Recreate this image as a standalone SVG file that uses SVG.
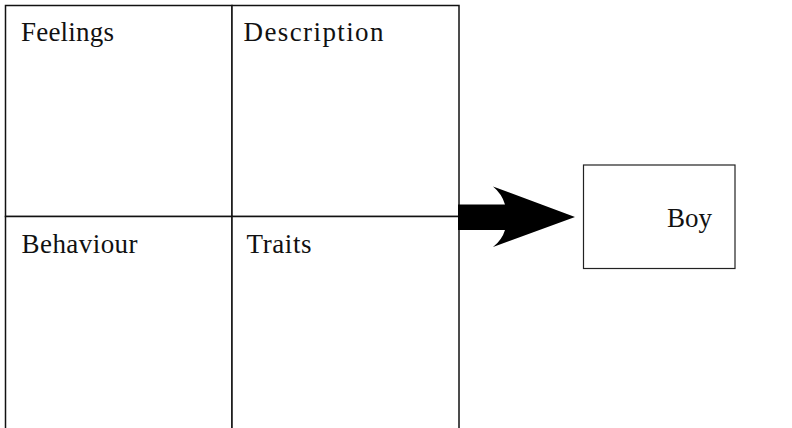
<svg xmlns="http://www.w3.org/2000/svg" width="792" height="428" viewBox="0 0 792 428">
<style>
.cell{fill:#fff;stroke:#111;stroke-width:1.5}
.box{fill:#fff;stroke:#222;stroke-width:1.2}
.lbl{font-family:"Liberation Serif","Times New Roman",serif;font-size:27px;fill:#111}
</style>
<rect width="792" height="428" fill="#fff"/>
<g id="feelings">
<rect class="cell" x="5.5" y="5.5" width="226.5" height="211"/>
<text class="lbl" x="21" y="41" textLength="93" lengthAdjust="spacing">Feelings</text>
</g>
<g id="description">
<rect class="cell" x="232" y="5.5" width="227" height="211"/>
<text class="lbl" x="243.5" y="41" textLength="140" lengthAdjust="spacing">Description</text>
</g>
<g id="behaviour">
<rect class="cell" x="5.5" y="216.5" width="226.5" height="230"/>
<text class="lbl" x="21.5" y="253" textLength="116" lengthAdjust="spacing">Behaviour</text>
</g>
<g id="traits">
<rect class="cell" x="232" y="216.5" width="227" height="230"/>
<text class="lbl" x="246.5" y="253" textLength="65" lengthAdjust="spacing">Traits</text>
</g>
<g id="boy">
<rect class="box" x="583.5" y="165" width="151.5" height="103.5"/>
<text class="lbl" x="667" y="227" textLength="45" lengthAdjust="spacing">Boy</text>
</g>
<g id="connectors">
<path d="M458,204.5 L505,204.5 Q502,194 493,186.5 L575,217 L493,247 Q502,240 505,230 L458,230 Z" fill="#000"/>
</g>
</svg>
